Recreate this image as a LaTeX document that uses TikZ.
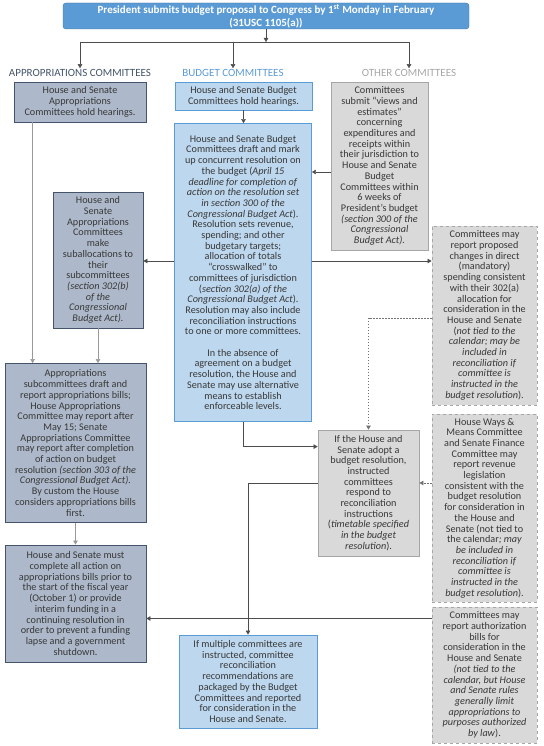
\documentclass[tikz,border=0pt]{standalone}
\usepackage{fontspec}
\setmainfont{Carlito}
\usetikzlibrary{arrows.meta,positioning,calc}
\definecolor{SlateFill}{HTML}{ADB9CA}
\definecolor{SlateLine}{HTML}{44546A}
\definecolor{SkyFill}{HTML}{BDD7EE}
\definecolor{SkyLine}{HTML}{5B9BD5}
\definecolor{GreyFill}{HTML}{D9D9D9}
\definecolor{GreyLine}{HTML}{A6A6A6}
\definecolor{TopLine}{HTML}{41719C}
\colorlet{Ink}{black!78}

\begin{document}
\begin{tikzpicture}[
    x=1pt,y=-1pt,
    >={Triangle[length=4pt,width=4.5pt]},
    box/.style={align=center,inner xsep=1pt,inner ysep=1pt,font=\fontsize{10.2}{10.7}\selectfont,text=Ink},
    apbox/.style={box,draw=SlateLine,fill=SlateFill,thick},
    bubox/.style={box,draw=SkyLine,fill=SkyFill,thick},
    otbox/.style={box,draw=GreyLine,fill=GreyFill,thick},
    opbox/.style={otbox,dashed},
    head/.style={font=\fontsize{11}{12}\selectfont,inner sep=1pt},
    flow/.style={->,black!70},
    apflow/.style={->,black!40},
    dotflow/.style={->,black!55,dash pattern=on 1.5pt off 1.5pt}
  ]
    \useasboundingbox (0,0) rectangle (543,746);

    \node[box,draw=TopLine,fill=SkyLine,rounded corners=3pt,text=white,font=\bfseries\fontsize{11}{13}\selectfont,inner ysep=0pt,minimum width=406pt,minimum height=26pt] (pres) at (266,16) {President submits budget proposal to Congress by 1\textsuperscript{st} Monday in February\\(31USC 1105(a))};
    \node[head,text=SlateLine] (aphead) at (80,73) {APPROPRIATIONS COMMITTEES};
    \node[head,text=SkyLine] (buhead) at (233,73) {BUDGET COMMITTEES};
    \node[head,text=GreyLine] (othead) at (409,73) {OTHER COMMITTEES};
    \coordinate (fork) at (266,42);

    \node[apbox,minimum width=132pt,minimum height=40pt] (aphear) at (80,102) {House and Senate\\Appropriations\\Committees hold hearings.};
    \node[bubox,minimum width=137pt,minimum height=28pt] (buhear) at (243.5,96) {House and Senate Budget\\Committees hold hearings.};
    \node[bubox,minimum width=137pt,minimum height=298pt] (bures) at (243,272.5) {House and Senate Budget\\Committees draft and mark\\up concurrent resolution on\\the budget (\textit{April 15}\\\textit{deadline for completion of}\\\textit{action on the resolution set}\\\textit{in section 300 of the}\\\textit{Congressional Budget Act}).\\Resolution sets revenue,\\spending; and other\\budgetary targets;\\allocation of totals\\“crosswalked” to\\committees of jurisdiction\\(\textit{section 302(a) of the}\\\textit{Congressional Budget Act}).\\Resolution may also include\\reconciliation instructions\\to one or more committees.\\[10.7pt]In the absence of\\agreement on a budget\\resolution, the House and\\Senate may use alternative\\means to establish\\enforceable levels.};
    \node[otbox,minimum width=97pt,minimum height=168pt] (views) at (379.5,166) {Committees\\submit “views and\\estimates”\\concerning\\expenditures and\\receipts within\\their jurisdiction to\\House and Senate\\Budget\\Committees within\\6 weeks of\\President’s budget\\\textit{(section 300 of the}\\\textit{Congressional}\\\textit{Budget Act).}};
    \node[apbox,minimum width=90pt,minimum height=136pt] (suball) at (98,260) {House and\\Senate\\Appropriations\\Committees\\make\\suballocations to\\their\\subcommittees\\\textit{(section 302(b)}\\\textit{of the}\\\textit{Congressional}\\\textit{Budget Act).}};
    \node[opbox,minimum width=105pt,minimum height=179pt] (direct) at (484.5,315.5) {Committees may\\report proposed\\changes in direct\\(mandatory)\\spending consistent\\with their 302(a)\\allocation for\\consideration in the\\House and Senate\\(\textit{not tied to the}\\\textit{calendar; may be}\\\textit{included in}\\\textit{reconciliation if}\\\textit{committee is}\\\textit{instructed in the}\\\textit{budget resolution}).};
    \node[apbox,minimum width=141pt,minimum height=159pt] (apbills) at (75.5,443) {Appropriations\\subcommittees draft and\\report appropriations bills;\\House Appropriations\\Committee may report after\\May 15; Senate\\Appropriations Committee\\may report after completion\\of action on budget\\resolution \textit{(section 303 of the}\\\textit{Congressional Budget Act).}\\By custom the House\\considers appropriations bills\\first.};
    \node[otbox,minimum width=101pt,minimum height=126pt] (recon) at (368.5,493) {If the House and\\Senate adopt a\\budget resolution,\\instructed\\committees\\respond to\\reconciliation\\instructions\\(\textit{timetable specified}\\\textit{in the budget}\\\textit{resolution}).};
    \node[opbox,minimum width=105pt,minimum height=188pt] (revenue) at (484.5,508) {House Ways \&\\Means Committee\\and Senate Finance\\Committee may\\report revenue\\legislation\\consistent with the\\budget resolution\\for consideration in\\the House and\\Senate (not tied to\\the calendar\textit{; may}\\\textit{be included in}\\\textit{reconciliation if}\\\textit{committee is}\\\textit{instructed in the}\\\textit{budget resolution}).};
    \node[apbox,minimum width=141pt,minimum height=117pt] (apdone) at (75.5,603.5) {House and Senate must\\complete all action on\\appropriations bills prior to\\the start of the fiscal year\\(October 1) or provide\\interim funding in a\\continuing resolution in\\order to prevent a funding\\lapse and a government\\shutdown.};
    \node[bubox,minimum width=138pt,minimum height=93pt] (package) at (248,681.5) {If multiple committees are\\instructed, committee\\reconciliation\\recommendations are\\packaged by the Budget\\Committees and reported\\for consideration in the\\House and Senate.};
    \node[opbox,minimum width=105pt,minimum height=136pt] (authz) at (484.5,675) {Committees may\\report authorization\\bills for\\consideration in the\\House and Senate\\\textit{(not tied to the}\\\textit{calendar, but House}\\\textit{and Senate rules}\\\textit{generally limit}\\\textit{appropriations to}\\\textit{purposes authorized}\\\textit{by law}).};

    \draw[flow] (pres.south) -- (fork);
    \draw[black!70] (aphead.north |- fork) -- (othead.north |- fork);
    \foreach \h in {aphead,buhead,othead}
      \draw[flow] (\h.north |- fork) -- (\h.north);

    \draw[apflow] ([xshift=19pt]aphear.south west) -- ([xshift=19pt]aphear.south west |- apbills.north);
    \draw[apflow] (suball.south) -- (suball.south |- apbills.north);
    \draw[apflow] (apbills.south) -- (apdone.north);
    \draw[flow] (buhear.south) -- (buhear.south |- bures.north);
    \draw[flow] ([yshift=-6pt]views.west) -- ([yshift=-6pt]views.west -| bures.east);
    \draw[flow] ([yshift=11.5pt]bures.west) -- ([yshift=11.5pt]bures.west -| suball.east);
    \draw[flow] ([yshift=11.5pt]bures.east) -- ([yshift=11.5pt]bures.east -| direct.west);
    \draw[dotflow] ([yshift=-2.5pt]direct.west) -| (recon.north);
    \draw[flow] (bures.south) |- ([yshift=-17pt]recon.north west);
    \draw[flow] ([yshift=10pt]recon.west) -| (package.north);
    \draw[dotflow] ([yshift=10pt]recon.east -| revenue.west) -- ([yshift=10pt]recon.east);
    \draw[flow] ([yshift=-15pt]apdone.east -| authz.west) -- ([yshift=-15pt]apdone.east);
  \end{tikzpicture}
\end{document}
